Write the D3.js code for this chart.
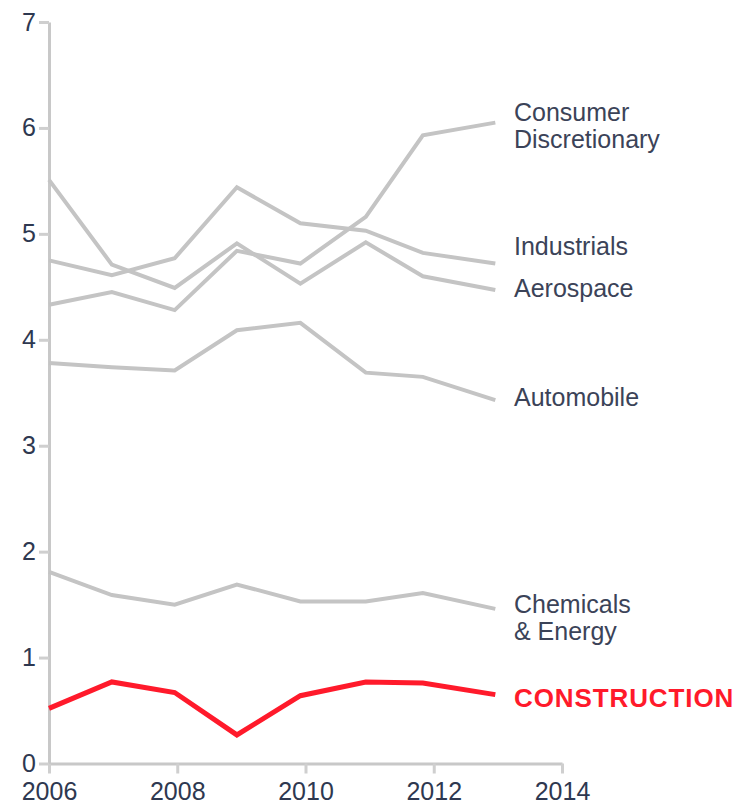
<!DOCTYPE html>
<html>
<head>
<meta charset="utf-8">
<script src="https://cdn.jsdelivr.net/npm/d3@7"></script>
<style>
  body { margin: 0; background: #fff; }
  text { font-family: 'Liberation Sans', Arial, sans-serif; }
</style>
</head>
<body>
<div id="chart"></div>
<script>
// x positions of the data points (years)
const years = [2006.0, 2006.98, 2007.96, 2008.93, 2009.92, 2010.94, 2011.83, 2012.96];

const consumer = [4.33, 4.45, 4.28, 4.84, 4.72, 5.16, 5.93, 6.05];
const industrials = [4.75, 4.61, 4.77, 5.44, 5.10, 5.03, 4.82, 4.72];
const aerospace = [5.51, 4.71, 4.49, 4.91, 4.53, 4.92, 4.60, 4.47];
const automobile = [3.78, 3.74, 3.71, 4.09, 4.16, 3.69, 3.65, 3.43];
const chemicals = [1.81, 1.59, 1.50, 1.69, 1.53, 1.53, 1.61, 1.46];
const construction = [0.52, 0.77, 0.67, 0.27, 0.64, 0.77, 0.76, 0.65];

const xTicks = [2006, 2008, 2010, 2012, 2014];
const yTicks = [0, 1, 2, 3, 4, 5, 6, 7];

const series = [
  { name: ['Consumer', 'Discretionary'], values: consumer, labelY: 121 },
  { name: ['Industrials'], values: industrials, labelY: 255 },
  { name: ['Aerospace'], values: aerospace, labelY: 297 },
  { name: ['Automobile'], values: automobile, labelY: 406 },
  { name: ['Chemicals', '& Energy'], values: chemicals, labelY: 613 },
  { name: ['CONSTRUCTION'], values: construction, labelY: 707, highlight: true }
];

const width = 736;
const height = 804;

const svg = d3
  .select('#chart')
  .append('svg')
  .attr('width', width)
  .attr('height', height);

const x = d3.scaleLinear().domain([2006, 2014]).range([49, 562]);
const y = d3.scaleLinear().domain([0, 7]).range([763.5, 22]);

//axes
const xAxis = svg
  .append('g')
  .attr('transform', `translate(0,${y(0)})`)
  .call(
    d3
      .axisBottom(x)
      .tickValues(xTicks)
      .tickFormat(d3.format('d'))
      .tickSize(10)
      .tickSizeOuter(0)
      .tickPadding(9)
  );

const yAxis = svg
  .append('g')
  .attr('transform', `translate(${x(2006)},0)`)
  .call(
    d3
      .axisLeft(y)
      .tickValues(yTicks)
      .tickFormat(d3.format('d'))
      .tickSize(10)
      .tickSizeOuter(0)
      .tickPadding(3)
  );

[xAxis, yAxis].forEach(a => {
  a.select('.domain').attr('stroke', '#c8c8c8').attr('stroke-width', 3);
  a.selectAll('.tick line').attr('stroke', '#cfcfcf').attr('stroke-width', 3);
  a.selectAll('.tick text')
    .attr('fill', '#2e3850')
    .style('font-size', '25px')
    .style('font-family', "'Liberation Sans', Arial, sans-serif");
});

const line = d3
  .line()
  .x((d, i) => x(years[i]))
  .y(d => y(d));

//grey lines first, red on top
svg
  .selectAll('.series')
  .data(series)
  .enter()
  .append('path')
  .attr('class', 'series')
  .attr('d', d => line(d.values))
  .attr('fill', 'none')
  .attr('stroke', d => (d.highlight ? '#ff1a2b' : '#c4c4c4'))
  .attr('stroke-width', d => (d.highlight ? 5 : 4))
  .attr('stroke-linejoin', 'miter');

//labels at the end of each line
const labels = svg
  .selectAll('.label')
  .data(series)
  .enter()
  .append('text')
  .attr('class', 'label')
  .attr('x', 514)
  .attr('y', d => d.labelY)
  .attr('fill', d => (d.highlight ? '#ff1a2b' : '#3b4358'))
  .style('font-size', d => (d.highlight ? '26px' : '25px'))
  .style('font-weight', d => (d.highlight ? 'bold' : 'normal'))
  .style('letter-spacing', d => (d.highlight ? '0.9px' : '0px'));

labels
  .selectAll('tspan')
  .data(d => d.name)
  .enter()
  .append('tspan')
  .attr('x', 514)
  .attr('dy', (d, i) => (i === 0 ? 0 : 27))
  .text(d => d);
</script>
</body>
</html>
